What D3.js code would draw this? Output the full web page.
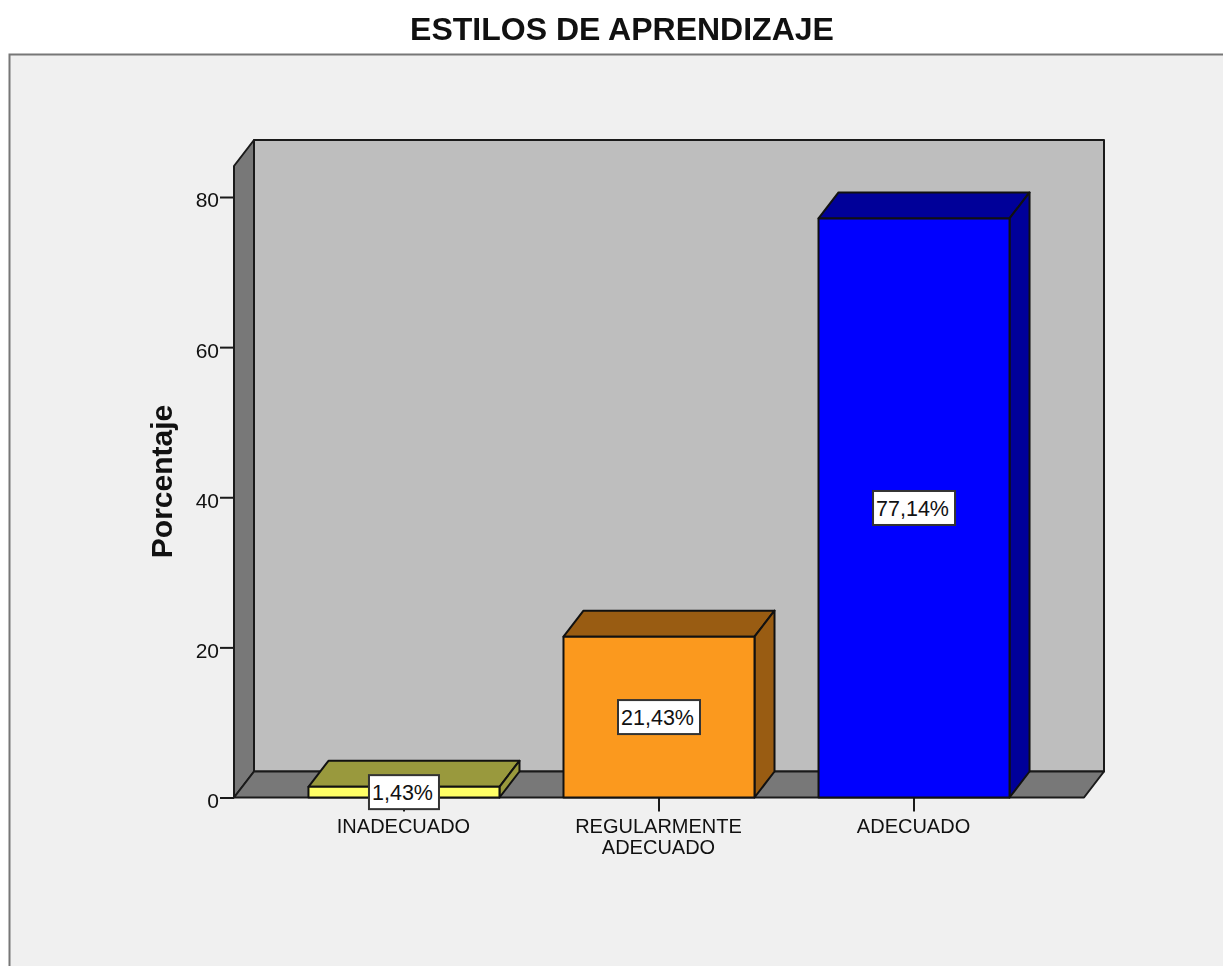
<!DOCTYPE html>
<html>
<head>
<meta charset="utf-8">
<script src="https://d3js.org/d3.v7.min.js"></script>
<style>
    html, body { margin: 0; padding: 0; background: #fff; overflow: hidden; }
    svg { display: block; filter: blur(0.5px); }
    text { font-family: "Liberation Sans", Arial, sans-serif; fill: #111; }
</style>
</head>
<body>
<div id="view"></div>
<script>
var categories = ["INADECUADO", "REGULARMENTE\nADECUADO", "ADECUADO"];
var percents = [1.43, 21.43, 77.14];
var percentLabels = ["1,43%", "21,43%", "77,14%"];
var yTicks = [0, 20, 40, 60, 80];
var frontColors = ["#ffff66", "#fb991e", "#0000ff"];
var sideColors = ["#99993d", "#995c12", "#000099"];

var view = {
    width: 1223,
    height: 966,
    left: 234,
    right: 1084,
    bottom: 797.5,
    top: 166,
    dx: 20,
    dy: -26,
};

var x = d3.scaleBand()
    .domain(categories)
    .range([view.left, view.right])
    .paddingInner(0.251)
    .paddingOuter(0.292);

var y = d3.scaleLinear()
    .domain([0, 80])
    .range([view.bottom, 197]);

var svg = d3.select("#view").append("svg")
    .attr("width", view.width)
    .attr("height", view.height);

drawFrame();
drawWalls();
drawAxes();
drawBars();
drawLabels();

function poly(points) {
    return "M" + points.map(p => p.join(",")).join("L") + "Z";
}

function drawFrame() {
    svg.append("rect")
        .attr("x", 9.5)
        .attr("y", 54.5)
        .attr("width", view.width + 20)
        .attr("height", view.height)
        .attr("fill", "#f0f0f0")
        .attr("stroke", "#777")
        .attr("stroke-width", 2);
    svg.append("text")
        .attr("x", 622)
        .attr("y", 40)
        .attr("text-anchor", "middle")
        .attr("font-size", 32)
        .attr("font-weight", "bold")
        .text("ESTILOS DE APRENDIZAJE");
    svg.append("text")
        .attr("transform", "translate(172, 481.5) rotate(-90)")
        .attr("text-anchor", "middle")
        .attr("font-size", 30)
        .attr("font-weight", "bold")
        .text("Porcentaje");
}

function drawWalls() {
    var l = view.left, r = view.right, b = view.bottom, t = view.top;
    var dx = view.dx, dy = view.dy;
    var walls = [
        {color: "#bebebe", d: poly([[l + dx, t + dy], [r + dx, t + dy], [r + dx, b + dy], [l + dx, b + dy]])},
        {color: "#787878", d: poly([[l, t], [l + dx, t + dy], [l + dx, b + dy], [l, b]])},
        {color: "#787878", d: poly([[l, b], [l + dx, b + dy], [r + dx, b + dy], [r, b]])},
    ];
    svg.append("g").selectAll("path").data(walls).enter().append("path")
        .attr("d", d => d.d)
        .attr("fill", d => d.color)
        .attr("stroke", "#1a1a1a")
        .attr("stroke-width", 2)
        .attr("stroke-linejoin", "round");
}

function drawAxes() {
    var yAxis = d3.axisLeft(y).tickValues(yTicks).tickSize(14).tickPadding(1);
    var gy = svg.append("g")
        .attr("transform", `translate(${view.left}, 0)`)
        .call(yAxis);
    gy.select(".domain").remove();
    gy.selectAll("line").attr("stroke", "#1a1a1a").attr("stroke-width", 2);
    gy.selectAll("text")
        .attr("font-size", 21)
        .attr("font-family", "Liberation Sans")
        .attr("fill", "#111")
        .attr("dy", "0.47em");

    var xAxis = d3.axisBottom(x).tickSize(14).tickFormat("");
    var gx = svg.append("g")
        .attr("transform", `translate(0, ${view.bottom})`)
        .call(xAxis);
    gx.select(".domain").remove();
    gx.selectAll("line").attr("stroke", "#1a1a1a").attr("stroke-width", 2);

    var labels = svg.append("g").selectAll("text").data(categories).enter().append("text")
        .attr("text-anchor", "middle")
        .attr("font-size", 20)
        .attr("transform", d => `translate(${x(d) + x.bandwidth() / 2 - 0.5}, 833)`);
    labels.selectAll("tspan").data(d => d.split("\n")).enter().append("tspan")
        .attr("x", 0)
        .attr("dy", (d, i) => i * 21)
        .text(d => d);
}

function drawBars() {
    var dx = view.dx, dy = view.dy, w = x.bandwidth();
    var bars = svg.append("g").selectAll("g").data(percents).enter().append("g")
        .attr("stroke", "#111")
        .attr("stroke-width", 2)
        .attr("stroke-linejoin", "round");
    bars.append("path")
        .attr("fill", (d, i) => sideColors[i])
        .attr("d", (d, i) => {
            var x0 = x(categories[i]);
            return poly([[x0, y(d)], [x0 + dx, y(d) + dy], [x0 + w + dx, y(d) + dy], [x0 + w, y(d)]]);
        });
    bars.append("path")
        .attr("fill", (d, i) => sideColors[i])
        .attr("d", (d, i) => {
            var x1 = x(categories[i]) + w;
            return poly([[x1, y(d)], [x1 + dx, y(d) + dy], [x1 + dx, y(0) + dy], [x1, y(0)]]);
        });
    bars.append("rect")
        .attr("fill", (d, i) => frontColors[i])
        .attr("x", (d, i) => x(categories[i]))
        .attr("y", d => y(d))
        .attr("width", w)
        .attr("height", d => y(0) - y(d));
}

function drawLabels() {
    var labels = svg.append("g").selectAll("g").data(percents).enter().append("g")
        .attr("transform", (d, i) => `translate(${x(categories[i]) + x.bandwidth() / 2}, ${(y(d) + y(0)) / 2})`);
    labels.append("rect")
        .attr("x", (d, i) => i === 0 ? -35 : -41)
        .attr("y", -17)
        .attr("width", (d, i) => i === 0 ? 70 : 82)
        .attr("height", 34)
        .attr("fill", "#fff")
        .attr("stroke", "#333")
        .attr("stroke-width", 2);
    labels.append("text")
        .attr("text-anchor", "middle")
        .attr("x", -1.5)
        .attr("y", 8)
        .attr("font-size", 21.5)
        .text((d, i) => percentLabels[i]);
}
</script>
</body>
</html>
